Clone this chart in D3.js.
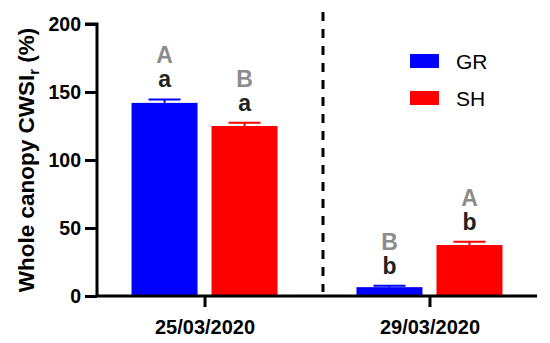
<!DOCTYPE html>
<html><head><meta charset="utf-8">
<script src="https://cdn.jsdelivr.net/npm/d3@7"></script>
<style>body{margin:0;background:#fff}svg{display:block;font-family:Arial,"Liberation Sans",sans-serif}</style>
</head><body>
<svg id="c" width="550" height="343"></svg>
<script>
const dates = ["25/03/2020", "29/03/2020"];
const series = ["GR", "SH"];
const colors = ["#0000FF", "#FF0000"];
const grMeans = [142, 6.5];
const grErrors = [2.5, 1];
const shMeans = [125, 37.5];
const shErrors = [2.4, 2.3];
const upperLetters = [["A", "B"], ["B", "A"]]; // [date][series]
const lowerLetters = [["a", "a"], ["b", "b"]];
const yTicks = [0, 50, 100, 150, 200];

const svg = d3.select("#c");
const pL = 97, pR = 537, pT = 24, pB = 296;

const y = d3.scaleLinear().domain([0, 200]).range([pB, pT]);
const x0 = d3.scalePoint().domain(dates).range([pL, pR]).padding(0.478);
const x1 = d3.scaleBand().domain(series).range([-73, 73]).paddingInner(0.175).paddingOuter(0);

const rows = [];
dates.forEach((d, i) => {
  series.forEach((s, j) => {
    rows.push({date: d, series: s, color: colors[j],
      mean: j === 0 ? grMeans[i] : shMeans[i],
      err: j === 0 ? grErrors[i] : shErrors[i],
      up: upperLetters[i][j], low: lowerLetters[i][j]});
  });
});

// dashed separator
svg.append("line")
  .attr("x1", 323).attr("x2", 323)
  .attr("y1", 12).attr("y2", 292)
  .attr("stroke", "#000").attr("stroke-width", 3)
  .attr("stroke-dasharray", "9,8");

const g = svg.append("g");
rows.forEach(r => {
  const bx = x0(r.date) + x1(r.series);
  const cx = bx + x1.bandwidth() / 2;
  g.append("rect").attr("x", bx).attr("width", x1.bandwidth())
    .attr("y", y(r.mean)).attr("height", y(0) - y(r.mean))
    .attr("fill", r.color);
  g.append("line").attr("x1", cx).attr("x2", cx)
    .attr("y1", y(r.mean)).attr("y2", y(r.mean + r.err))
    .attr("stroke", r.color).attr("stroke-width", 2);
  g.append("line").attr("x1", cx - 16).attr("x2", cx + 16)
    .attr("y1", y(r.mean + r.err)).attr("y2", y(r.mean + r.err))
    .attr("stroke", r.color).attr("stroke-width", 2);
  const base = y(r.mean + r.err) - 12;
  g.append("text").attr("x", cx).attr("y", base).attr("text-anchor", "middle")
    .attr("font-size", 23).attr("font-weight", "bold").attr("fill", "#222").text(r.low);
  g.append("text").attr("x", cx).attr("y", base - 24).attr("text-anchor", "middle")
    .attr("font-size", 23).attr("font-weight", "bold").attr("fill", "#8c8c8c").text(r.up);
});

// y axis
const ya = svg.append("g").attr("transform", `translate(${pL},0)`)
  .call(d3.axisLeft(y).tickValues(yTicks).tickSize(12).tickPadding(4));
ya.select(".domain").attr("stroke-width", 3).attr("d", `M-12,${pT}H0V${pB}`);
ya.selectAll(".tick line").attr("stroke-width", 3);
ya.selectAll(".tick text").attr("font-size", 19.5).attr("font-weight", "bold")
  .attr("font-family", "Arial, 'Liberation Sans', sans-serif").attr("fill", "#000");

// x axis
const xa = svg.append("g").attr("transform", `translate(0,${pB})`)
  .call(d3.axisBottom(x0).tickSize(11).tickPadding(6));
xa.select(".domain").attr("stroke-width", 3).attr("d", `M${pL - 1.5},0H${pR}`);
xa.selectAll(".tick line").attr("stroke-width", 3);
xa.selectAll(".tick text").attr("font-size", 20).attr("font-weight", "bold")
  .attr("font-family", "Arial, 'Liberation Sans', sans-serif").attr("fill", "#000")
  .attr("dy", "1.05em");

// y title
const t = svg.append("text")
  .attr("transform", "translate(34,160) rotate(-90)")
  .attr("text-anchor", "middle").attr("font-size", 22.5).attr("font-weight", "bold");
t.append("tspan").text("Whole canopy CWSI");
t.append("tspan").attr("font-size", 15).attr("dy", 5).text("r");
t.append("tspan").attr("dy", -5).text(" (%)");

// legend
const lg = svg.append("g");
series.forEach((s, j) => {
  const ly = 54 + j * 37;
  lg.append("rect").attr("x", 410).attr("y", ly).attr("width", 29).attr("height", 14).attr("fill", colors[j]);
  lg.append("text").attr("x", 456).attr("y", ly + 7).attr("dy", "0.36em")
    .attr("font-size", 21).text(s);
});
</script>
</body></html>
